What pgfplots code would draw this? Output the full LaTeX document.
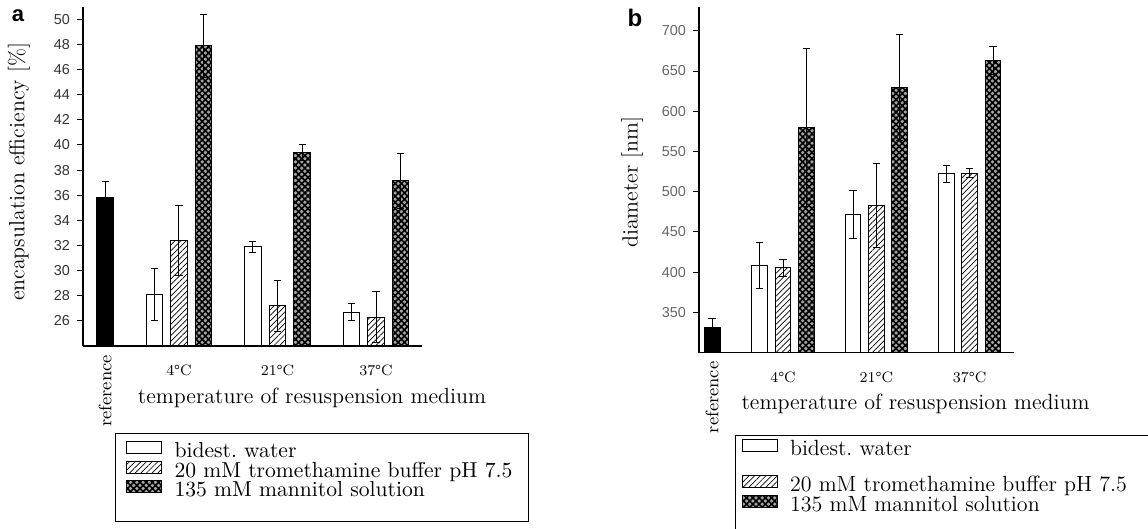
\documentclass[border=0pt]{standalone}
\usepackage{fontspec}
\setsansfont{Liberation Sans}
\usepackage{pgfplots}
\pgfplotsset{compat=1.18}
\usetikzlibrary{patterns.meta}

\pgfplotsset{
  wbar/.style={fill=white, draw=black, line width=0.5pt},
  hbar/.style={draw=black, line width=0.5pt, pattern={Lines[angle=45,distance=2pt,line width=0.35pt]}},
  mbar/.style={draw=black, line width=0.5pt, fill=black!35, postaction={pattern={Hatch[angle=45,distance=2.2pt,line width=0.8pt]}}},
  kbar/.style={fill=black, draw=black, line width=0.5pt},
  eb/.style={/pgfplots/error bars/y dir=both, /pgfplots/error bars/y explicit,
    /pgfplots/error bars/error bar style={line width=0.5pt, draw=black, solid},
    /pgfplots/error bars/error mark options={rotate=90, mark size=1.8pt, line width=0.5pt, black}},
  myaxis/.style={
    scale only axis, anchor=south west,
    axis x line=bottom, axis y line=left,
    axis line style={-, line width=0.6pt},
    tick align=outside, major tick length=3pt,
    ytick style={line width=0.5pt, black},
    xtick={1,2,3}, xticklabels={4\textdegree C,21\textdegree C,37\textdegree C},
    xtick style={draw=none},
    xticklabel style={font=\fontsize{7.5}{9}\selectfont, yshift=-3pt},
    extra x tick style={xticklabel style={rotate=90, anchor=east, xshift=5pt, font=\fontsize{9}{10}\selectfont}},
    /pgf/number format/assume math mode=true,
    label style={font=\fontsize{11}{13}\selectfont},
    ybar, bar shift=0pt,
    enlargelimits=false,
    legend image code/.code={\draw[#1] (0pt,-1pt) rectangle (17.5pt,5pt);},
  }
}

\begin{document}
\begin{tikzpicture}
\useasboundingbox (0,0) rectangle (574pt,-264.5pt);

% ---------------- panel a
\begin{axis}[myaxis,
  at={(41.5pt,-173pt)}, width=169.35pt, height=169.65pt,
  xmin=0.0254, xmax=3.464, ymin=24, ymax=51,
  ytick={26,28,...,50},
  yticklabel style={font=\fontsize{7.2}{8}\sffamily, text=black!80},
  bar width=0.168,
  extra x ticks={0.25}, extra x tick labels={reference},
  xlabel={temperature of resuspension medium},
  xlabel style={at={(axis description cs:0.676,-0.153)}, anchor=center},
  ylabel={encapsulation efficiency [\%]},
  ylabel style={at={(axis description cs:-0.189,0.513)}, anchor=center},
  legend style={at={(axis description cs:0.0945,-0.256)}, anchor=north west,
    draw=black, line width=0.5pt, font=\fontsize{10.8}{10}\selectfont,
    inner xsep=5pt, inner ysep=4pt, row sep=0pt, column sep=6.5pt,
    nodes={inner sep=0pt, text height=7.5pt, text depth=1.5pt}},
  legend cell align=left,
]
\addplot[kbar, forget plot, eb] coordinates {(0.25,35.8) +- (0,1.3)};
\addplot[wbar, eb] coordinates {(0.75,28.1) +- (0,2.1) (1.75,31.9) +- (0,0.45) (2.75,26.7) +- (0,0.7)};
\addlegendentry{bidest.\ water}
\addplot[hbar, eb] coordinates {(1,32.4) +- (0,2.8) (2,27.2) +- (0,2.05) (3,26.3) +- (0,2.05)};
\addlegendentry{20 mM tromethamine buffer pH 7.5\hspace*{3pt}}
\addplot[mbar, eb] coordinates {(1.25,47.9) +- (0,2.5) (2.25,39.4) +- (0,0.6) (3.25,37.15) +- (0,2.2)};
\addlegendentry{135 mM mannitol solution}
\addlegendimage{empty legend}
\addlegendentry[text height=7pt, text depth=0pt]{}
\end{axis}
\node[font=\fontsize{11}{11}\sffamily\bfseries] at (9pt,-8pt) {a};

% ---------------- panel b
\begin{axis}[myaxis,
  at={(349.5pt,-176.25pt)}, width=157.65pt, height=172.9pt,
  xmin=0.1, xmax=3.478, ymin=300, ymax=730,
  ytick={350,400,...,700},
  yticklabel style={font=\fontsize{7.2}{8}\sffamily, text=black!60},
  bar width=0.171,
  extra x ticks={0.24}, extra x tick labels={reference},
  xlabel={temperature of resuspension medium},
  xlabel style={at={(axis description cs:0.687,-0.149)}, anchor=center},
  ylabel={diameter [nm]},
  ylabel style={at={(axis description cs:-0.2125,0.493)}, anchor=center},
  legend style={at={(axis description cs:0.114,-0.2386)}, anchor=north west,
    draw=black, line width=0.5pt, font=\fontsize{11}{10}\selectfont,
    inner xsep=3.3pt, inner ysep=1.75pt, row sep=0pt, column sep=6pt,
    nodes={inner sep=0pt, text height=7.5pt, text depth=2pt}},
  legend cell align=left,
]
\addplot[kbar, forget plot, eb] coordinates {(0.24,331) +- (0,11)};
\addplot[wbar, eb] coordinates {(0.75,408) +- (0,29) (1.75,472) +- (0,30) (2.75,522) +- (0,10)};
\addlegendentry{bidest.\ water}
\addlegendimage{empty legend}
\addlegendentry[text height=8pt, text depth=0pt]{}
\addplot[hbar, eb] coordinates {(1,405.5) +- (0,10.5) (2,482.5) +- (0,52) (3,523) +- (0,6)};
\addlegendentry{20 mM tromethamine buffer pH 7.5\hspace*{10pt}}
\addplot[mbar, eb] coordinates {(1.25,579.5) +- (0,98.5) (2.25,630) +- (0,66) (3.25,663) +- (0,17.5)};
\addlegendentry{135 mM mannitol solution}
\addlegendimage{empty legend}
\addlegendentry[text height=15pt, text depth=0pt]{}
\end{axis}
\node[font=\fontsize{12}{12}\sffamily\bfseries] at (317.5pt,-9pt) {b};
\end{tikzpicture}
\end{document}
